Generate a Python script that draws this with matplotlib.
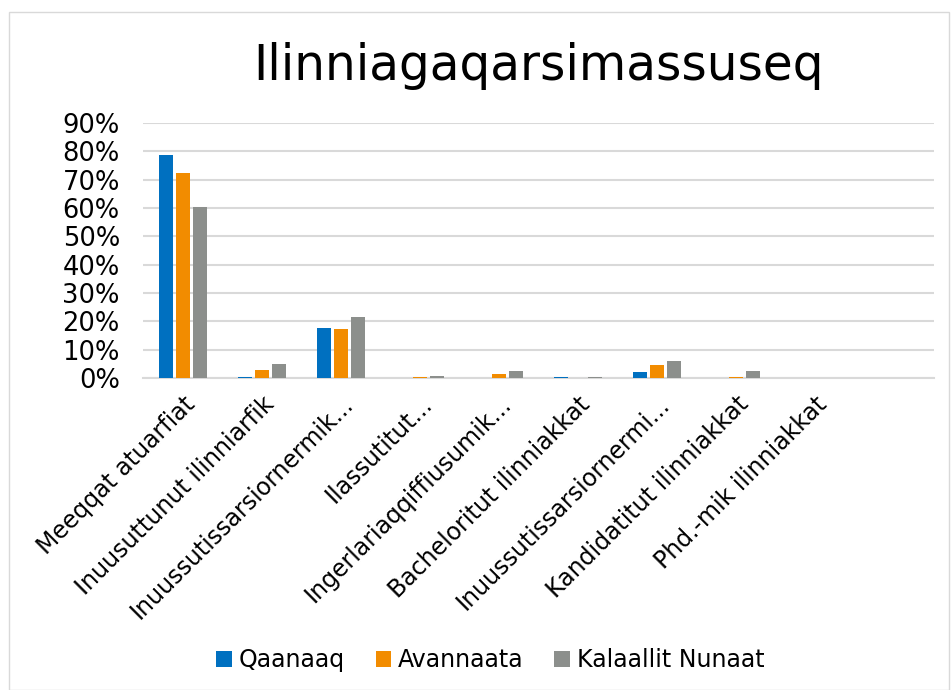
import numpy as np
import matplotlib
matplotlib.use("Agg")
import matplotlib.pyplot as plt
from matplotlib.patches import Rectangle

categories = [
    "Meeqqat atuarfiat",
    "Inuusuttunut ilinniarfik",
    "Inuussutissarsiornermik...",
    "Ilassutitut...",
    "Ingerlariaqqiffiusumik...",
    "Bacheloritut ilinniakkat",
    "Inuussutissarsiornermi...",
    "Kandidatitut ilinniakkat",
    "Phd.-mik ilinniakkat",
]
series_names = ["Qaanaaq", "Avannaata", "Kalaallit Nunaat"]
qaanaaq = [0.787, 0.005, 0.175, 0.0, 0.0, 0.003, 0.023, 0.0, 0.0]
avannaata = [0.723, 0.030, 0.174, 0.003, 0.015, 0.001, 0.045, 0.004, 0.0]
kalaallit = [0.604, 0.050, 0.216, 0.007, 0.025, 0.005, 0.060, 0.025, 0.001]
colors = ["#0070C0", "#F28C00", "#8C8F8C"]
yticks = np.arange(0, 0.91, 0.1)

fig = plt.figure(figsize=(9.52, 6.9), dpi=100)
ax = fig.add_axes([0.1507, 0.452, 0.83, 0.37])

x = np.arange(len(categories))
w = 0.18
offs = [-0.215, 0.0, 0.215]
for vals, name, c, o in zip([qaanaaq, avannaata, kalaallit], series_names, colors, offs):
    ax.bar(x + o, vals, width=w, color=c, label=name, zorder=3)

ax.set_xlim(-0.5, len(categories) + 0.5)
ax.set_ylim(0, 0.9)
ax.set_yticks(yticks)
ax.set_yticklabels([f"{int(round(v * 100))}%" for v in yticks], fontsize=18.5)
ax.set_xticks(x)
ax.set_xticklabels(categories, rotation=45, ha="right", rotation_mode="anchor", fontsize=17)
ax.tick_params(axis="y", length=0, pad=17)
ax.tick_params(axis="x", length=0, pad=10)
ax.grid(axis="y", color="#D9D9D9", linewidth=1.5, zorder=0)
for s in ["top", "right", "left"]:
    ax.spines[s].set_visible(False)
ax.spines["bottom"].set_color("#D9D9D9")
ax.spines["bottom"].set_linewidth(1.5)

ax.set_title("Ilinniagaqarsimassuseq", fontsize=35, pad=31)

fig.legend(loc="center", bbox_to_anchor=(0.515, 0.043), ncol=3, frameon=False,
           fontsize=17, handlelength=0.65, handleheight=0.65, handletextpad=0.3, columnspacing=1.3)

fig.patches.append(Rectangle((0.009, 0.0), 0.988, 0.983, transform=fig.transFigure,
                             fill=False, edgecolor="#D9D9D9", linewidth=1))

fig.savefig("out.png", dpi=100)
